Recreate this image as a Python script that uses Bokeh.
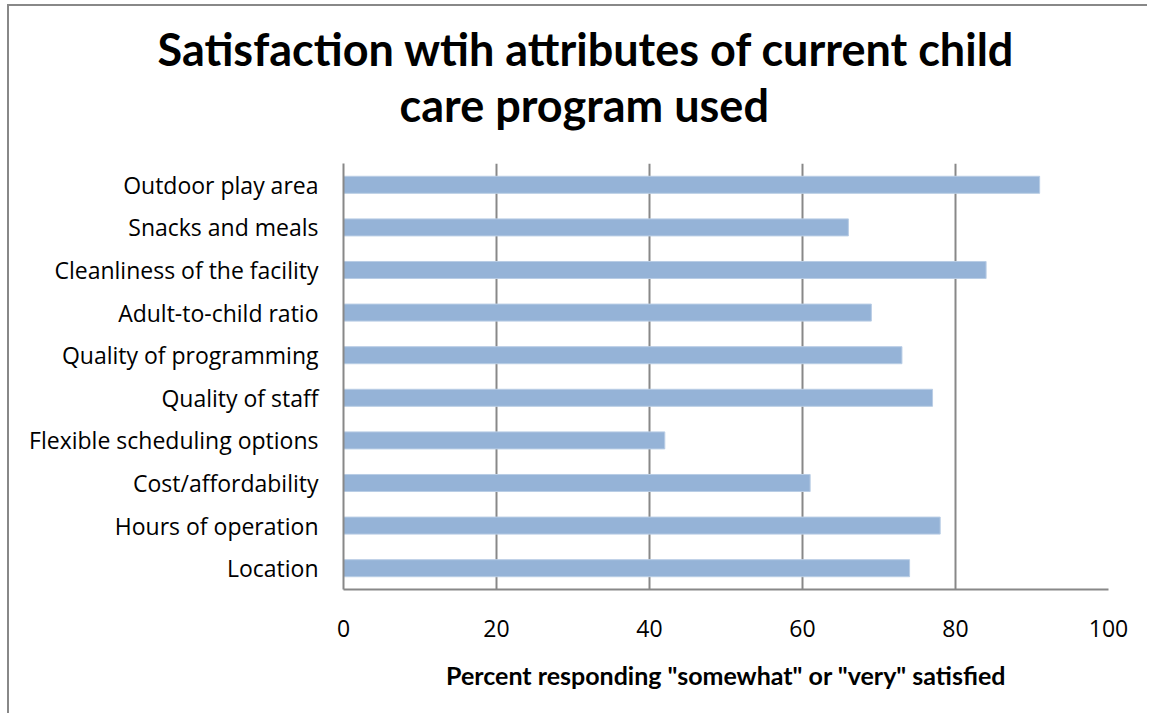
from bokeh.plotting import figure
from bokeh.models import Range1d, FixedTicker, Title, ColumnDataSource
from bokeh.embed import file_html
from bokeh.resources import INLINE

categories = [
    "Outdoor play area",
    "Snacks and meals",
    "Cleanliness of the facility",
    "Adult-to-child ratio",
    "Quality of programming",
    "Quality of staff",
    "Flexible scheduling options",
    "Cost/affordability",
    "Hours of operation",
    "Location",
]
values = [91, 66, 84, 69, 73, 77, 42, 61, 78, 74]
x_ticks = [0, 20, 40, 60, 80, 100]
title_lines = ["Satisfaction wtih attributes of current child", "care program used"]
x_title = 'Percent responding "somewhat" or "very" satisfied'

W, H = 1140, 709
p = figure(
    width=W, height=H,
    y_range=list(reversed(categories)),
    x_range=Range1d(0, 100),
    output_backend="svg", toolbar_location=None,
    min_border_left=334, min_border_top=157, min_border_right=41, min_border_bottom=126,
)
p.styles = {"margin-top": "4px", "margin-left": "7px",
            "border-top": "2px solid #888888", "border-left": "2px solid #888888"}
p.outline_line_color = None
p.background_fill_color = "white"
p.border_fill_color = "white"

src = ColumnDataSource(dict(cat=categories, val=values))
p.hbar(y="cat", right="val", left=0, height=0.4, source=src,
       fill_color="#95B3D7", line_color="#B9CDE5", line_width=1)

p.xaxis.ticker = FixedTicker(ticks=x_ticks)
p.xgrid.ticker = FixedTicker(ticks=x_ticks)
p.xgrid.grid_line_color = "#888888"
p.xgrid.grid_line_width = 2
p.ygrid.grid_line_color = None

for ax in (p.xaxis, p.yaxis):
    ax.axis_line_color = "#888888"
    ax.axis_line_width = 2
    ax.major_tick_line_color = None
    ax.minor_tick_line_color = None
    ax.major_label_text_color = "black"
    ax.major_label_text_font = "Open Sans"

p.xaxis.major_label_text_font_size = "23px"
p.xaxis.major_label_standoff = 24
p.xaxis.axis_label = x_title
p.xaxis.axis_label_text_font = "Lato"
p.xaxis.axis_label_text_font_style = "bold"
p.xaxis.axis_label_text_font_size = "25px"
p.xaxis.axis_label_text_color = "black"
p.xaxis.axis_label_standoff = 20

p.yaxis.major_label_text_font_size = "23px"
p.yaxis.major_label_standoff = 19

t2 = Title(text=title_lines[1], align="left", offset=56, standoff=64,
           text_font="Lato", text_font_style="bold", text_font_size="45px", text_color="black")
t1 = Title(text=title_lines[0], align="left", offset=-186, standoff=-64,
           text_font="Lato", text_font_style="bold", text_font_size="45px", text_color="black")
p.add_layout(t2, "above")
p.add_layout(t1, "above")

open("out.html", "w").write(file_html(p, INLINE))
